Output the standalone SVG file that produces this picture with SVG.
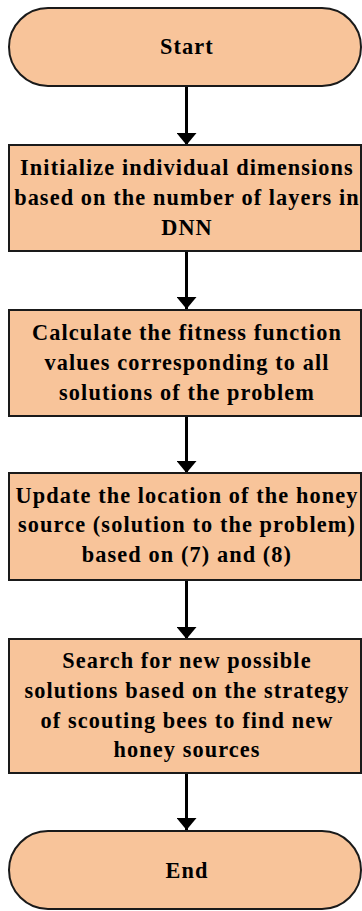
<svg xmlns="http://www.w3.org/2000/svg" width="362" height="911" viewBox="0 0 362 911">
<defs>
<marker id="ah" viewBox="0 0 12 20" refX="12" refY="10" markerWidth="12" markerHeight="20" markerUnits="userSpaceOnUse" orient="auto">
<path d="M0,0 L12,10 L0,20 Z" fill="#000"/>
</marker>
<style>
.n{fill:#F8C49A;stroke:#1a1a1a;stroke-width:2}
.t{font-family:"Liberation Serif","Times New Roman",serif;font-weight:bold;font-size:22.3px;letter-spacing:1.1px;fill:#000;text-anchor:middle}
.c{stroke:#000;stroke-width:3;fill:none;marker-end:url(#ah)}
</style>
</defs>
<rect width="362" height="911" fill="#fff"/>
<g id="connectors">
<line class="c" x1="186.5" y1="86" x2="186.5" y2="145"/>
<line class="c" x1="186.5" y1="251" x2="186.5" y2="309"/>
<line class="c" x1="186.5" y1="416" x2="186.5" y2="473"/>
<line class="c" x1="186.5" y1="580" x2="186.5" y2="639"/>
<line class="c" x1="186.5" y1="773" x2="186.5" y2="830"/>
</g>
<g id="start">
<rect class="n" x="9" y="8" width="352" height="78" rx="39" ry="39"/>
<text class="t" x="187" y="54">Start</text>
</g>
<g id="init">
<rect class="n" x="9" y="145" width="352" height="106"/>
<text class="t" x="187" y="175">Initialize individual dimensions</text>
<text class="t" x="187" y="205">based on the number of layers in</text>
<text class="t" x="187" y="235">DNN</text>
</g>
<g id="fitness">
<rect class="n" x="9" y="310" width="352" height="106"/>
<text class="t" x="187" y="340">Calculate the fitness function</text>
<text class="t" x="187" y="370">values corresponding to all</text>
<text class="t" x="187" y="400">solutions of the problem</text>
</g>
<g id="update">
<rect class="n" x="9" y="473" width="352" height="107"/>
<text class="t" x="187" y="503">Update the location of the honey</text>
<text class="t" x="187" y="532">source (solution to the problem)</text>
<text class="t" x="187" y="562">based on (7) and (8)</text>
</g>
<g id="search">
<rect class="n" x="9" y="639" width="352" height="134"/>
<text class="t" x="187" y="668">Search for new possible</text>
<text class="t" x="187" y="698">solutions based on the strategy</text>
<text class="t" x="187" y="728">of scouting bees to find new</text>
<text class="t" x="187" y="757">honey sources</text>
</g>
<g id="end">
<rect class="n" x="9" y="831" width="352" height="78" rx="39" ry="39"/>
<text class="t" x="187" y="878">End</text>
</g>
</svg>
